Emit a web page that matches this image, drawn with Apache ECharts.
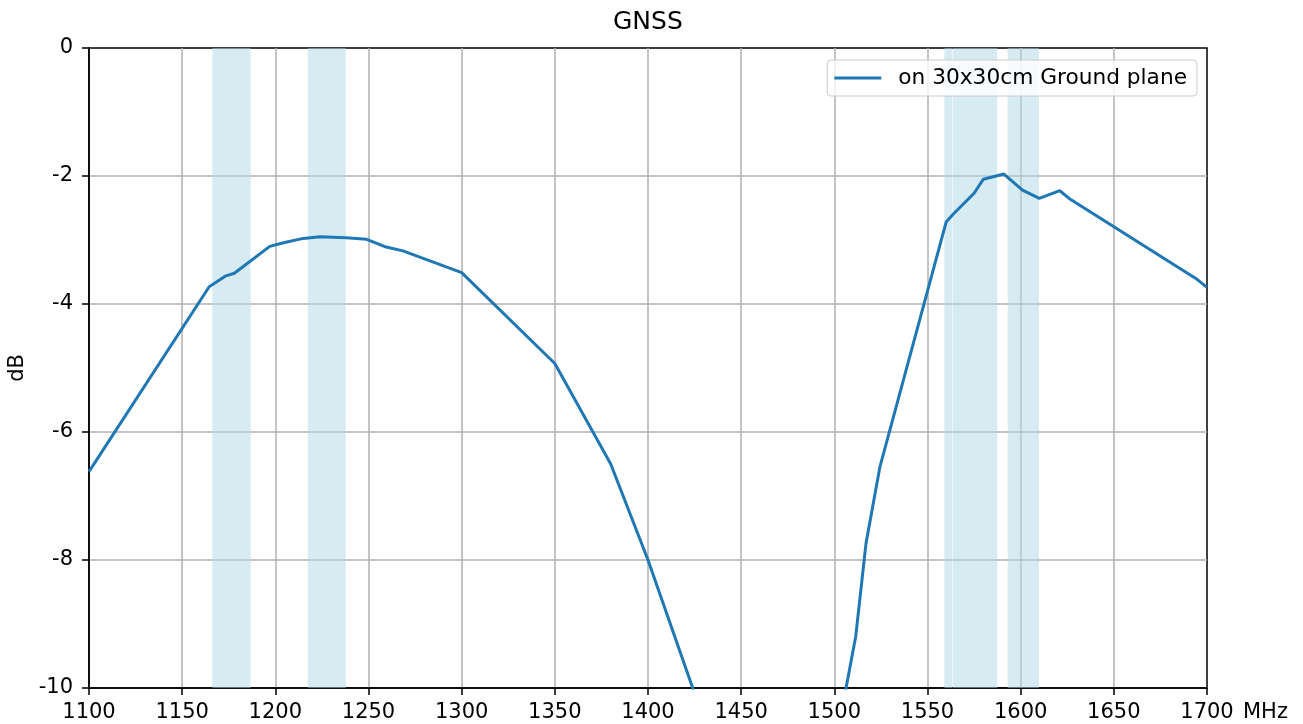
<!DOCTYPE html>
<html lang="en">
<head>
    <meta charset="UTF-8">
    <title>GNSS</title>
    <script src="https://cdn.jsdelivr.net/npm/echarts@6/dist/echarts.min.js"></script>
    <style>
        html, body { margin: 0; padding: 0; background: #fff; }
        #chart { width: 1303px; height: 724px; }
    </style>
</head>
<body>
<div id="chart"></div>
<script>
    var freq = [1100, 1164.5, 1173.5, 1178, 1197, 1205, 1215, 1224, 1238, 1249, 1259.5, 1268.5, 1300,
        1350, 1380, 1400, 1430, 1505, 1511.5, 1517, 1524.5, 1560, 1564, 1575, 1580, 1591, 1601,
        1610, 1621, 1626, 1694, 1700];
    var gain = [-6.62, -3.73, -3.56, -3.52, -3.10, -3.04, -2.975, -2.95, -2.965, -2.99, -3.11, -3.17, -3.51,
        -4.93, -6.5, -8.0, -10.5, -10.2, -9.19, -7.74, -6.54, -2.72, -2.59, -2.27, -2.05, -1.97, -2.22,
        -2.35, -2.23, -2.35, -3.6, -3.74];

    // GNSS bands (MHz)
    var bands = [
        [1166.2, 1186.7],
        [1217.4, 1237.8],
        [1559.05, 1563.2],
        [1563.5, 1587.4],
        [1593, 1609.8]
    ];

    var seriesName = 'on 30x30cm Ground plane';
    var xTicks = {min: 1100, max: 1700, step: 50};
    var yTicks = {min: -10, max: 0, step: 2};

    var font = 'DejaVu Sans';
    var dom = document.getElementById('chart');
    var myChart = echarts.init(dom, null, {renderer: 'canvas'});

    var lineData = freq.map(function (f, i) { return [f, gain[i]]; });
    var areaData = bands.map(function (b) {
        return [{xAxis: b[0]}, {xAxis: b[1]}];
    });

    var option = {
        animation: false,
        backgroundColor: '#fff',
        title: {
            text: 'GNSS',
            left: 613,
            top: 10,
            padding: 0,
            textStyle: {fontFamily: font, fontSize: 25, fontWeight: 'normal', color: '#000'}
        },
        legend: {
            data: [seriesName],
            right: 106,
            top: 60,
            padding: [7, 10, 7, 7],
            backgroundColor: 'rgba(255,255,255,0.8)',
            borderColor: '#cccccc',
            borderWidth: 1,
            borderRadius: 4,
            icon: 'rect',
            itemWidth: 47,
            itemHeight: 3,
            itemStyle: {borderWidth: 0},
            textStyle: {fontFamily: font, fontSize: 21.7, color: '#000', padding: [0, 0, 0, 12]}
        },
        grid: {
            left: 89,
            right: 96,
            top: 48,
            bottom: 36,
            show: true,
            borderColor: '#000',
            borderWidth: 1.5,
            backgroundColor: 'transparent',
            outerBoundsMode: 'none'
        },
        xAxis: {
            type: 'value',
            min: xTicks.min,
            max: xTicks.max,
            interval: xTicks.step,
            name: 'MHz',
            nameLocation: 'end',
            nameGap: 36,
            nameTextStyle: {fontFamily: font, fontSize: 21, color: '#000', verticalAlign: 'top', padding: [14, 0, 0, 0]},
            axisLine: {show: true, onZero: false, lineStyle: {color: '#000', width: 1.5}},
            axisTick: {show: true, length: 7, lineStyle: {color: '#000', width: 1.5}},
            axisLabel: {
                fontFamily: font, fontSize: 21, color: '#000', margin: 14,
                formatter: function (v) { return String(v); }
            },
            splitLine: {show: true, showMinLine: false, showMaxLine: false, lineStyle: {color: '#b0b0b0', width: 1.5}}
        },
        yAxis: {
            type: 'value',
            min: yTicks.min,
            max: yTicks.max,
            interval: yTicks.step,
            name: 'dB',
            nameLocation: 'middle',
            nameGap: 56,
            nameTextStyle: {fontFamily: font, fontSize: 21, color: '#000'},
            axisLine: {show: true, onZero: false, lineStyle: {color: '#000', width: 1.5}},
            axisTick: {show: true, length: 7, lineStyle: {color: '#000', width: 1.5}},
            axisLabel: {fontFamily: font, fontSize: 21, color: '#000', margin: 16},
            splitLine: {show: true, showMinLine: false, showMaxLine: false, lineStyle: {color: '#b0b0b0', width: 1.5}}
        },
        series: [{
            name: seriesName,
            type: 'line',
            data: lineData,
            showSymbol: false,
            symbol: 'none',
            clip: true,
            color: '#1f77b4',
            itemStyle: {color: '#1f77b4'},
            lineStyle: {color: '#1f77b4', width: 3},
            z: 3,
            markArea: {
                silent: true,
                itemStyle: {color: 'rgba(173,216,230,0.5)'},
                label: {show: false},
                data: areaData
            }
        }]
    };

    myChart.setOption(option);
</script>
</body>
</html>
